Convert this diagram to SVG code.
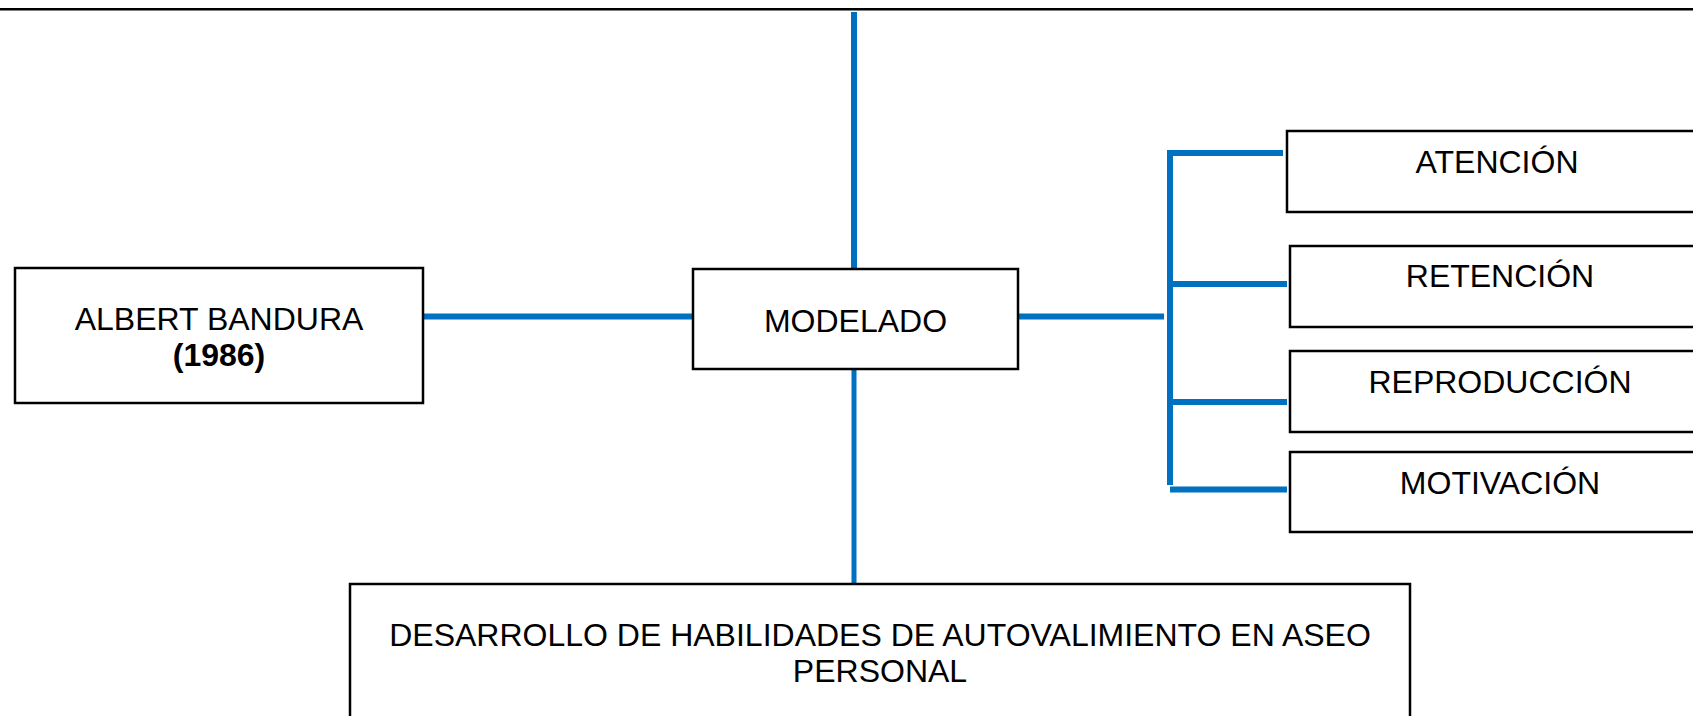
<svg xmlns="http://www.w3.org/2000/svg" width="1693" height="716" viewBox="0 0 1693 716">
<style>
.box{fill:#fff;stroke:#000;stroke-width:2.5}
.t{font-family:"Liberation Sans",Arial,sans-serif;font-size:32px;fill:#000;text-anchor:middle}
.b{font-weight:bold}
.c{stroke:#0070C0;fill:none;stroke-width:6}
</style>
<rect width="1693" height="716" fill="#fff"/>
<line x1="0" y1="9.3" x2="1693" y2="9.3" stroke="#000" stroke-width="2.5"/>
<g id="connectors">
<line class="c" x1="854" y1="12" x2="854" y2="269"/>
<line class="c" x1="854" y1="369" x2="854" y2="584" style="stroke-width:5"/>
<line class="c" x1="423" y1="316.5" x2="693" y2="316.5"/>
<line class="c" x1="1018" y1="316.5" x2="1164" y2="316.5"/>
<line class="c" x1="1170" y1="150" x2="1170" y2="485"/>
<line class="c" x1="1167" y1="153" x2="1283" y2="153"/>
<line class="c" x1="1170" y1="284" x2="1287" y2="284"/>
<line class="c" x1="1170" y1="402" x2="1287" y2="402"/>
<line class="c" x1="1170" y1="489.5" x2="1287" y2="489.5"/>
</g>
<g id="albert">
<rect class="box" x="15" y="268" width="408" height="135"/>
<text class="t" x="219" y="330">ALBERT BANDURA</text>
<text class="t b" x="219" y="366">(1986)</text>
</g>
<g id="modelado">
<rect class="box" x="693" y="269" width="325" height="100"/>
<text class="t" x="855.5" y="332">MODELADO</text>
</g>
<g id="atencion">
<rect class="box" x="1287" y="131" width="423" height="81"/>
<text class="t" x="1497" y="173">ATENCIÓN</text>
</g>
<g id="retencion">
<rect class="box" x="1290" y="246" width="420" height="81"/>
<text class="t" x="1500" y="287">RETENCIÓN</text>
</g>
<g id="reproduccion">
<rect class="box" x="1290" y="351" width="420" height="81"/>
<text class="t" x="1500" y="393">REPRODUCCIÓN</text>
</g>
<g id="motivacion">
<rect class="box" x="1290" y="452" width="420" height="80"/>
<text class="t" x="1500" y="494">MOTIVACIÓN</text>
</g>
<g id="desarrollo">
<rect class="box" x="350" y="584" width="1060" height="160"/>
<text class="t" x="880" y="646">DESARROLLO DE HABILIDADES DE AUTOVALIMIENTO EN ASEO</text>
<text class="t" x="880" y="682">PERSONAL</text>
</g>
</svg>
